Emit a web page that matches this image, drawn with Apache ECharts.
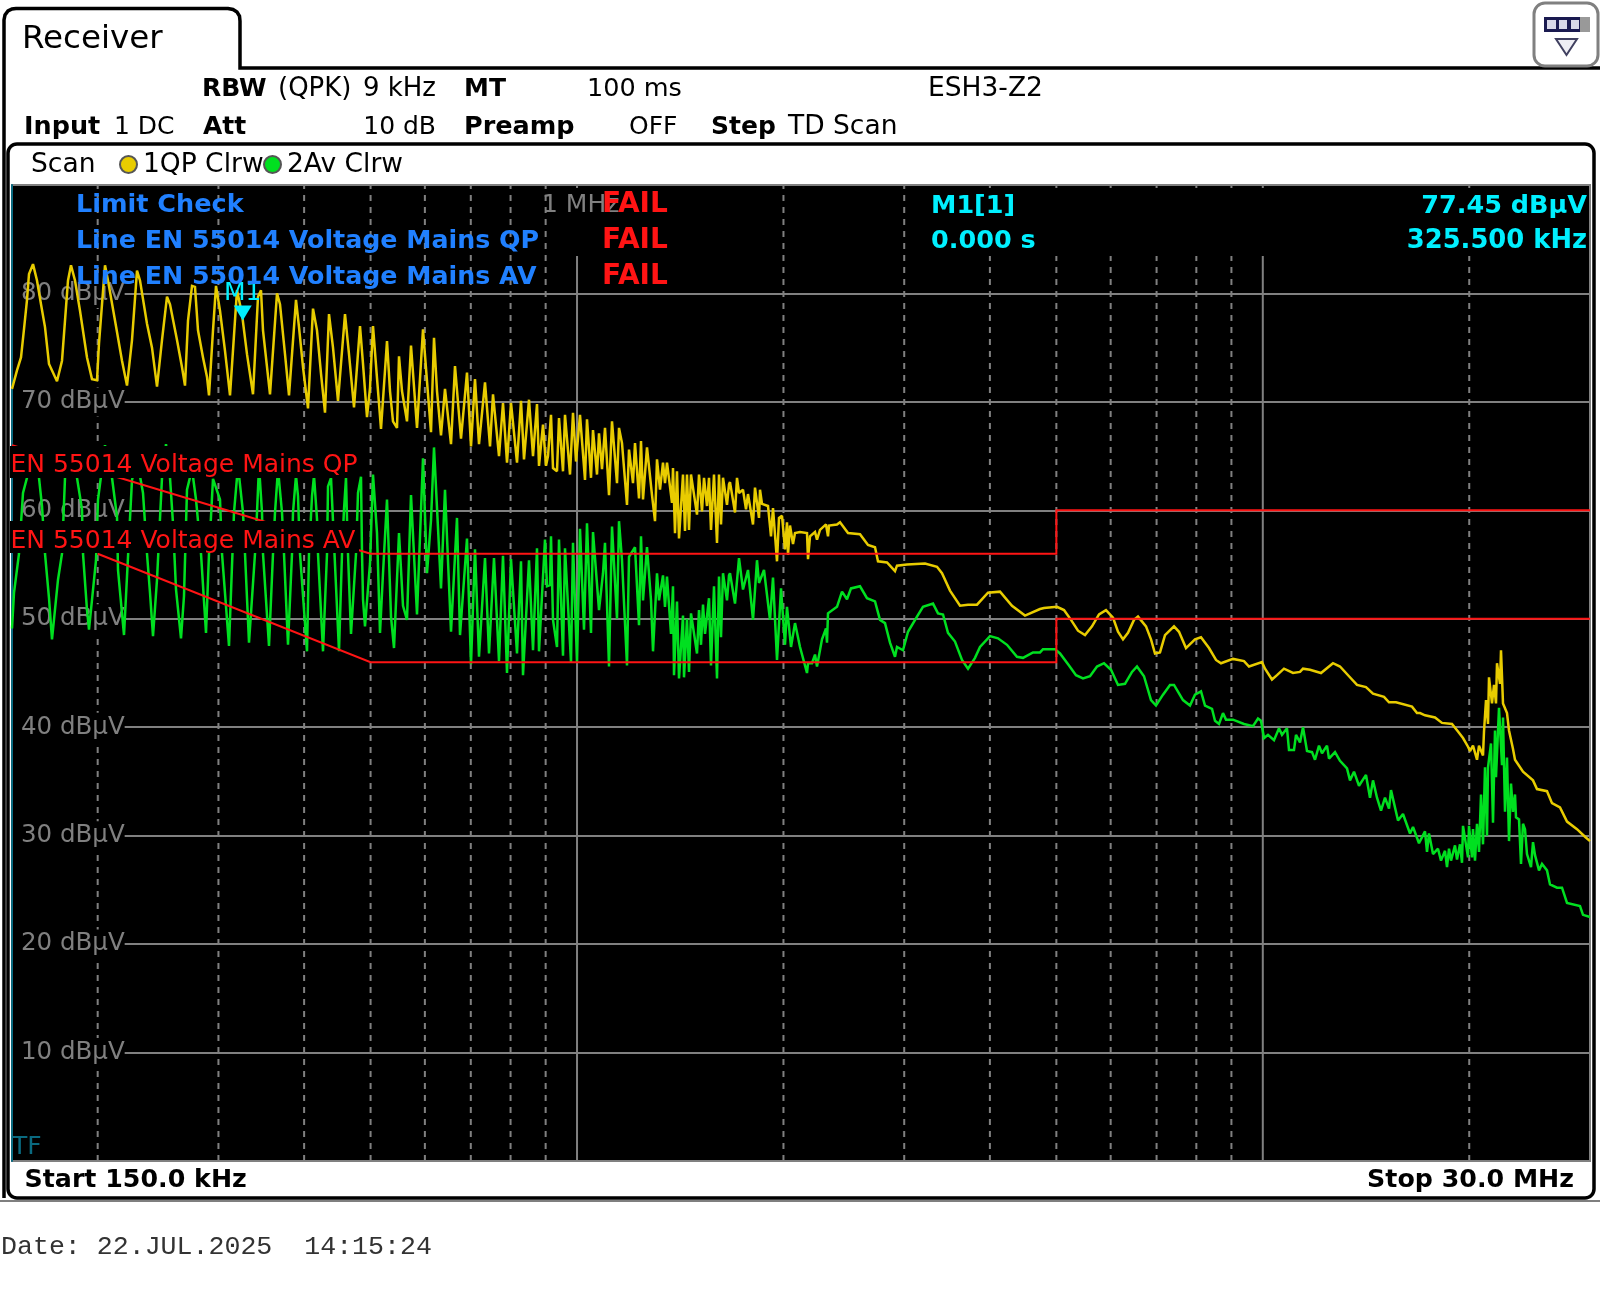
<!DOCTYPE html>
<html><head><meta charset="utf-8">
<style>html,body{margin:0;padding:0;background:#fff}#c{width:1600px;height:1294px}</style>
<script src="https://cdn.jsdelivr.net/npm/echarts@6/dist/echarts.min.js"></script>
</head><body><div id="c"></div>
<script>
// Sweep: 150 kHz .. 30 MHz, log spaced over 1578 sweep points
const startMHz = 0.15, stopMHz = 30, sweepPoints = 1578;
const yTicks = [0, 90];
const dashedFreqMHz = [0.2,0.3,0.4,0.5,0.6,0.7,0.8,0.9,2,3,4,5,6,7,8,9,20];
const solidFreqMHz = [1,10];

const qpSweep = [0,5,9,12,15,17,21,25,29,33,37,45,50,53,56,59,63,68,75,80,85,87,90,93,96,103,110,115,120,125,128,135,140,145,150,155,158,165,170,173,176,
180,183,186,191,195,197,201,204,208,213,218,225,230,235,241,246,249,251,258,265,268,273,277,284,287,291,296,301,305,309,313,317,321,326,333,337,342,348,351,355,
358,361,365,369,375,378,381,385,387,390,395,399,405,411,415,419,422,425,429,433,439,443,449,455,459,463,467,473,478,481,487,491,495,499,505,509,512,517,521,525,527,531,534,536,
539,541,545,547,551,553,558,561,564,568,573,575,579,581,585,587,590,593,597,600,605,607,610,615,617,621,623,627,629,631,635,640,643,645,648,651,653,655,660,661,663,665,667,671,673,675,677,679,685,687,690,692,695,697,699,702,705,707,709,711,715,717,
718,723,725,727,731,734,736,741,743,747,748,750,756,759,761,765,767,770,773,775,776,778,781,783,788,795,796,798,803,805,808,814,816,817,825,828,836,848,856,863,866,875,883,885,895,913,925,930,938,948,956,965,976,988,1000,1013,1028,
1032,1045,1052,1059,1066,1073,1080,1087,1094,1101,1106,1111,1116,1122,1126,1134,1139,1143,1148,1153,1162,1167,1174,1183,1189,1197,1204,1209,1221,1232,1237,1250,1253,1260,1265,1272,1281,1288,1291,1298,1309,1321,1328,1337,1345,1354,1361,1372,1377,1384,1400,1405,
1408,1413,1423,1430,1440,1446,1451,1456,1458,1461,1465,1467,1471,1472,1474,1476,1477,1480,1482,1484,1485,1488,1489,1491,1495,1497,1501,1503,1511,1521,1525,1535,1540,1548,1555,1565,1573,1578];
const qpLevel = [71.2,72.9,74.1,76.7,79.4,81.8,82.7,81.2,79.0,76.9,73.5,71.9,73.8,77.5,81.2,82.6,81.2,78.4,74.1,72.1,72.0,75.4,79.0,82.6,81.2,77.5,73.8,71.5,75.7,82.1,81.2,77.2,75.0,71.4,75.7,79.7,79.0,75.7,73.2,71.5,77.5,
80.7,80.6,76.6,74.1,72.3,70.6,76.6,80.7,78.4,74.7,70.6,80.3,78.1,74.4,70.7,79.7,80.3,76.6,70.7,80.0,79.0,74.4,70.6,79.4,76.9,73.2,69.4,78.6,76.6,72.6,69.0,78.1,75.0,70.1,78.1,74.4,69.5,77.0,73.5,68.6,
71.3,77.0,72.2,67.5,75.6,71.0,68.2,67.6,74.2,71.0,68.2,75.2,67.6,76.7,71.9,67.2,75.9,71.0,66.9,71.2,66.1,73.3,66.6,72.7,65.9,72.1,66.1,71.8,65.9,70.7,65.0,69.9,64.4,69.9,64.4,70.1,64.7,70.2,65.0,69.8,64.1,67.9,64.1,65.0,
68.8,63.9,63.6,68.5,63.6,68.8,63.3,69.0,64.5,68.8,62.8,68.4,63.0,67.4,63.3,67.1,63.8,67.6,61.4,68.2,62.5,67.6,66.2,60.5,65.6,62.5,66.2,61.1,66.4,61.0,65.8,61.4,59.0,64.7,61.9,64.4,62.5,64.4,60.7,63.9,57.9,63.6,57.4,63.3,58.1,63.3,58.2,63.3,59.6,63.3,59.9,63.0,60.4,63.0,58.2,63.3,57.0,63.3,58.7,63.0,60.5,62.4,
62.6,59.8,63.0,61.6,61.9,60.1,61.5,58.7,62.1,59.3,61.9,60.6,60.4,57.6,60.2,55.3,59.3,59.5,56.4,58.9,55.9,58.6,56.9,57.9,58.0,57.9,55.5,57.6,58.0,57.3,58.2,58.7,57.6,58.6,58.7,58.9,57.9,57.8,56.8,56.6,55.3,55.2,54.4,54.9,55.0,55.1,54.8,54.2,52.6,51.2,51.3,51.3,52.4,52.5,51.2,50.3,50.9,
51.0,51.1,50.8,49.9,48.9,48.5,49.3,50.4,50.8,50.1,48.8,48.1,48.7,49.9,50.2,49.3,48.1,46.8,46.9,48.5,49.3,48.8,47.3,48.1,48.3,47.3,46.2,45.9,46.3,46.1,45.6,46.0,45.4,44.4,44.8,45.4,45.0,45.1,45.4,45.3,45.0,45.9,45.6,44.7,43.9,43.7,43.1,42.8,42.3,42.3,41.9,41.3,
41.3,41.1,40.9,40.4,40.3,39.6,39.0,38.2,37.8,38.3,37.0,38.3,37.4,39.6,42.5,40.3,44.6,42.2,43.9,42.2,45.9,44.0,47.1,42.2,41.3,39.7,38.0,37.0,35.9,35.1,34.3,34.1,33.0,32.6,31.3,30.6,29.9,29.5];

const avSweep = [0,2,7,11,15,20,27,30,33,37,40,46,50,53,58,65,70,71,75,77,84,86,93,100,105,106,112,115,120,125,131,135,138,141,145,150,154,158,161,164,169,172,175,
180,184,186,189,194,197,201,208,210,217,220,222,226,231,233,237,243,245,247,250,251,257,261,263,266,270,272,276,280,281,284,286,288,295,297,300,302,305,306,311,315,316,319,321,327,330,332,334,335,336,339,344,346,349,350,351,353,
358,361,365,368,371,375,379,382,387,391,395,399,405,411,415,419,422,429,433,439,445,448,455,459,463,467,473,477,482,487,491,495,499,505,509,511,517,521,525,527,533,535,538,
539,541,545,547,551,553,559,561,565,568,572,575,579,581,587,591,593,597,600,605,607,610,615,617,623,627,629,631,635,639,641,645,647,651,653,655,659,661,662,665,667,671,672,675,677,679,685,687,689,691,693,697,699,702,705,707,709,711,715,717,
718,723,727,731,736,741,745,747,752,758,761,765,769,773,775,779,783,788,795,796,800,803,805,810,814,815,816,825,830,835,839,848,855,863,868,873,878,883,885,891,896,905,911,921,926,931,936,943,950,956,963,968,978,986,995,1005,1011,1021,1028,
1031,1043,1048,1057,1064,1071,1078,1085,1092,1099,1106,1113,1120,1125,1132,1139,1144,1151,1158,1162,1171,1178,1183,1189,1193,1200,1203,1207,1211,1214,1221,1232,1241,1246,1249,1252,1256,1262,1267,1270,1275,1277,1282,1284,1288,1291,1295,1300,1303,1307,1310,1315,1317,1323,1328,1335,1338,1342,1347,1354,1358,1361,1365,1369,1373,1377,1379,1386,1391,1398,1401,1407,
1408,1413,1415,1417,1421,1426,1429,1433,1435,1437,1439,1443,1445,1448,1450,1451,1456,1457,1460,1461,1463,1465,1467,1469,1471,1473,1475,1476,1479,1481,1483,1484,1487,1490,1491,1493,1495,1497,1499,1501,1503,1504,1507,1509,1511,1513,1515,1519,1521,1523,1527,1530,1535,1538,1545,1550,1555,1568,1571,1578];
const avLevel = [49.1,52.4,56.0,61.6,63.0,64.7,63.0,60.4,56.0,51.9,48.1,53.6,56.0,63.0,65.0,63.0,60.1,56.0,50.8,49.0,55.4,61.0,66.0,63.0,59.4,54.5,48.5,53.9,62.8,64.7,61.6,56.0,52.4,48.4,53.6,63.0,66.1,63.0,58.8,52.7,48.2,52.1,61.9,
63.8,61.0,59.0,56.0,48.7,56.0,62.9,61.0,56.0,47.5,54.9,59.8,64.1,59.8,56.0,47.8,56.0,59.8,64.1,59.8,56.0,47.5,56.0,59.8,63.8,59.8,56.0,47.6,56.0,59.8,63.2,61.3,56.0,47.0,56.0,61.3,63.2,59.2,56.0,47.0,56.0,62.2,63.0,59.0,47.0,56.0,60.1,63.0,59.2,56.0,48.6,56.0,61.6,63.1,56.1,51.8,49.3,
55.1,63.3,57.9,48.7,54.2,61.0,50.2,47.3,57.9,51.2,49.9,61.4,50.4,64.8,54.2,59.1,65.8,52.8,61.9,48.8,59.3,48.5,57.4,45.8,56.4,46.5,55.6,46.8,55.6,46.1,55.8,45.0,55.5,46.8,55.3,44.8,55.4,47.1,56.5,47.0,57.3,53.0,53.1,
57.6,49.9,47.4,57.3,46.6,56.5,46.0,57.0,46.0,58.3,49.0,58.8,48.7,58.0,50.8,54.2,57.0,45.6,58.5,50.0,59.0,55.4,45.7,55.7,56.6,49.4,57.6,51.7,56.6,51.7,47.0,54.2,51.7,54.0,51.1,53.9,48.6,53.0,44.8,51.6,44.5,50.3,44.6,50.0,45.1,50.5,46.8,50.8,47.6,51.3,48.6,51.9,45.7,53.0,44.5,53.9,48.3,54.2,51.7,54.0,
54.2,51.4,55.6,52.7,54.5,49.9,55.4,53.3,54.5,49.9,53.8,46.2,52.8,47.6,51.1,47.4,49.6,47.4,45.0,45.9,45.9,46.7,45.6,48.1,49.1,47.8,50.5,51.1,52.5,51.8,52.8,53.0,51.9,51.6,49.9,49.6,47.8,46.5,47.4,47.1,48.8,50.2,51.1,51.4,50.5,50.4,48.7,47.9,46.2,45.4,46.4,47.4,48.4,48.2,47.6,46.5,46.4,46.9,46.9,
47.2,47.2,46.8,45.7,44.8,44.5,44.7,45.6,45.9,45.3,43.9,44.0,45.1,45.6,44.7,42.5,42.0,43.0,43.9,43.9,42.5,42.0,43.0,43.3,42.0,41.7,40.6,40.3,41.3,40.7,40.7,40.3,40.1,40.8,40.6,39.0,39.3,38.8,39.9,39.3,39.9,37.9,37.9,39.3,38.6,40.0,37.8,37.7,37.0,38.3,37.6,38.3,37.1,37.7,36.9,36.2,35.1,35.9,34.6,35.6,33.5,35.1,33.5,32.3,33.5,32.5,34.2,31.4,32.0,30.2,30.8,29.3,
29.5,30.4,28.5,30.2,28.3,28.8,27.7,28.6,27.1,28.8,27.7,29.1,27.8,29.2,27.5,30.9,28.0,30.9,28.0,30.6,27.7,31.1,28.5,33.8,29.2,36.3,30.0,36.3,38.5,31.2,39.7,35.4,41.8,36.5,40.9,32.2,37.2,29.5,34.8,32.2,33.8,31.7,31.5,27.4,31.1,30.6,28.3,27.1,29.4,28.2,26.8,27.4,26.8,25.5,25.2,25.2,23.8,23.5,22.7,22.5];

// Limit lines [MHz], [dBuV]
const qpLimitFreq = [0.15,0.5,5,5,30];
const qpLimitLevel = [66,56,56,60,60];
const avLimitFreq = [0.2,0.5,5,5,30];
const avLimitLevel = [56,46,46,50,50];
const markerFreq = 0.3255, markerLevel = 77.45;

const sweepToMHz = p => startMHz * Math.pow(stopMHz / startMHz, p / sweepPoints);
const zip = (xs, ys) => xs.map((x, i) => [x, ys[i]]);

const GRAY = '#808080', YEL = '#e8cc00', GRN = '#00e020', RED = '#ff1414', BLU = '#2080ff', CY = '#00f0ff';
const F = '"DejaVu Sans"';
const T = (text, x, y, o = {}) => ({
  type: 'text', x, y, z: o.z || 100, silent: true,
  style: { text, fill: o.fill || '#000', align: o.align || 'left', verticalAlign: 'middle',
           font: (o.bold ? 'bold ' : '') + (o.size || 26) + 'px ' + (o.family || F) }
});
const R = (x, y, w, h, fill, z = 50, extra = {}) => ({ type: 'rect', z, silent: true, shape: Object.assign({ x, y, width: w, height: h }, extra), style: { fill } });

const graphics = [
  // outer tab + panel frame
  { type: 'polyline', z: 90, silent: true,
    shape: { points: [[4,1198],[4,20],[5,15],[8,11],[12,9],[16,8.5],[228,8.5],[233,9.5],[237,12],[239.5,16],[240,21],[240,68],[1600,68]] },
    style: { fill: null, stroke: '#000', lineWidth: 3.5 } },
  { type: 'rect', z: 90, silent: true, shape: { x: 8, y: 144, width: 1586, height: 1054, r: 9 },
    style: { fill: null, stroke: '#000', lineWidth: 3.5 } },
  R(0, 1200.5, 1600, 1, '#000', 90),
  // softkey icon
  { type: 'rect', z: 91, silent: true, shape: { x: 1534, y: 3, width: 64, height: 63, r: 11 },
    style: { fill: '#fff', stroke: GRAY, lineWidth: 3 } },
  R(1544, 17, 46, 15, '#999', 93), R(1544, 17, 36, 15, '#1a1a50', 93),
  R(1547, 20, 9, 9, '#d8d8e8', 94), R(1559, 20, 8, 9, '#d8d8e8', 94), R(1571, 20, 8, 9, '#d8d8e8', 94),
  { type: 'polygon', z: 93, silent: true, shape: { points: [[1556, 39], [1577, 39], [1566.5, 55]] },
    style: { fill: '#eeeef4', stroke: '#404060', lineWidth: 2 } },
  // header
  T('Receiver', 22, 39.5, { size: 32.5 }),
  T('RBW', 202, 89.5, { bold: 1, size: 25 }), T('(QPK)', 278, 89.5), T('9 kHz', 436, 89.5, { align: 'right' }),
  T('MT', 464, 89.5, { bold: 1, size: 25 }), T('100 ms', 587, 89.5, { size: 25.5 }), T('ESH3-Z2', 928, 89.5, { size: 26.5 }),
  T('Input', 24, 127.5, { bold: 1, size: 25.5 }), T('1 DC', 114, 127.5, { size: 25 }), T('Att', 203, 127.5, { bold: 1, size: 25 }),
  T('10 dB', 436, 127.5, { align: 'right', size: 25 }), T('Preamp', 464, 127.5, { bold: 1, size: 25.5 }), T('OFF', 629, 127.5, { size: 25 }),
  T('Step', 711, 127.5, { bold: 1, size: 25 }), T('TD Scan', 788, 127.5, { size: 26.5 }),
  T('Scan', 31, 165, { size: 26.5 }),
  { type: 'circle', z: 100, silent: true, shape: { cx: 128.5, cy: 164.5, r: 8.5 }, style: { fill: YEL, stroke: '#555', lineWidth: 2 } },
  T('1QP Clrw', 143, 165, { size: 26.5 }),
  { type: 'circle', z: 100, silent: true, shape: { cx: 272.5, cy: 164.5, r: 8.5 }, style: { fill: GRN, stroke: '#555', lineWidth: 2 } },
  T('2Av Clrw', 287, 165, { size: 26.5 }),
  // masks behind instrument text blocks
  R(548, 188, 124, 68, '#000', 40), R(925, 188, 663, 68, '#000', 40),
  // limit check block
  T('Limit Check', 76, 205, { bold: 1, fill: BLU, size: 25.5 }),
  T('Line EN 55014 Voltage Mains QP', 76, 241, { bold: 1, fill: BLU, size: 25.3 }),
  T('Line EN 55014 Voltage Mains AV', 76, 277, { bold: 1, fill: BLU, size: 25.3 }),
  T('1 MHz', 542, 205, { fill: GRAY, z: 60, size: 25 }),
  T('FAIL', 602, 205, { bold: 1, fill: RED, size: 28 }), T('FAIL', 602, 241, { bold: 1, fill: RED, size: 28 }), T('FAIL', 602, 277, { bold: 1, fill: RED, size: 28 }),
  // marker block
  T('M1[1]', 931, 206, { bold: 1, fill: CY, size: 25.5 }), T('0.000 s', 931, 241, { bold: 1, fill: CY, size: 25.5 }),
  T('77.45 dB\u00b5V', 1587, 206, { bold: 1, fill: CY, align: 'right', size: 25.5 }), T('325.500 kHz', 1587, 241, { bold: 1, fill: CY, align: 'right', size: 25.8 }),
  // limit line labels
  R(10, 446, 349, 32, '#000', 80), R(10, 521, 349, 32, '#000', 80),
  T('EN 55014 Voltage Mains QP', 10.5, 465, { fill: RED, size: 25 }),
  T('EN 55014 Voltage Mains AV', 10.5, 541, { fill: RED, size: 25 }),
  T('TF', 12, 1147, { fill: '#0a6a80', size: 25 }),
  T('Start 150.0 kHz', 24.5, 1180.5, { bold: 1, size: 25.3 }),
  T('Stop 30.0 MHz', 1574, 1180.5, { bold: 1, align: 'right', size: 25.3 }),
  T('Date: 22.JUL.2025  14:15:24', 1, 1247, { size: 26.6, family: '"Liberation Mono"', fill: '#333' })
];

const vGrid = (freqs, dashed) => freqs.map(f => ({
  type: 'line', z: 0, silent: true, symbol: 'none', animation: false,
  data: [[f, 0], [f, 90]],
  lineStyle: { color: GRAY, width: 2, type: dashed ? [6, 6] : 'solid' }
}));
const lineSeries = (data, color, z, width = 2.5) => ({
  type: 'line', z, silent: true, symbol: 'none', animation: false, smooth: false, data,
  lineStyle: { color, width, join: 'miter', miterLimit: 2 }, clip: true
});

const chart = echarts.init(document.getElementById('c'), null, { renderer: 'canvas', width: 1600, height: 1294 });
chart.setOption({
  backgroundColor: '#fff',
  animation: false,
  grid: { show: true, left: 12, top: 185, width: 1578, height: 976, backgroundColor: '#000', borderColor: GRAY, borderWidth: 2 },
  xAxis: { type: 'log', logBase: 10, min: startMHz, max: stopMHz,
    axisLabel: { show: false }, axisTick: { show: false }, axisLine: { show: false }, splitLine: { show: false }, minorSplitLine: { show: false } },
  yAxis: { type: 'value', min: yTicks[0], max: yTicks[1], interval: 10, z: 1,
    axisLine: { show: true, lineStyle: { color: '#0a6a80', width: 2 } }, axisTick: { show: false },
    splitLine: { show: true, lineStyle: { color: GRAY, width: 2 } },
    axisLabel: { inside: true, margin: 1, color: GRAY, fontFamily: F, fontSize: 24.5, backgroundColor: '#000', padding: [4, 0, 0, 8],
      showMinLabel: false, showMaxLabel: false, formatter: v => v + ' dB\u00b5V' } },
  series: [
    ...vGrid(dashedFreqMHz, true),
    ...vGrid(solidFreqMHz, false),
    lineSeries(zip(avSweep.map(sweepToMHz), avLevel), GRN, 2),
    lineSeries(zip(qpSweep.map(sweepToMHz), qpLevel), YEL, 3),
    lineSeries(zip(qpLimitFreq, qpLimitLevel), RED, 4, 2),
    lineSeries(zip(avLimitFreq, avLimitLevel), RED, 4, 2),
    { type: 'scatter', z: 6, silent: true, animation: false, data: [[markerFreq, markerLevel]],
      symbol: 'triangle', symbolRotate: 180, symbolSize: [18, 15], symbolOffset: [0, -8],
      itemStyle: { color: CY, opacity: 1 },
      label: { show: true, position: 'top', distance: 0, formatter: 'M1', color: CY, fontFamily: F, fontSize: 25 } }
  ],
  graphic: { elements: graphics }
});
</script></body></html>
